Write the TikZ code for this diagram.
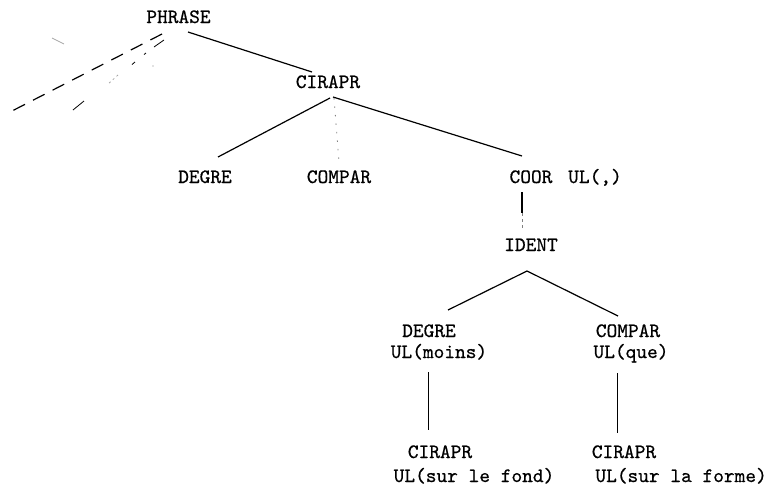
\documentclass[tikz,border=0pt]{standalone}
\usepackage{fontspec}
\newfontfamily\tw[FakeBold=0.6]{lmmono10-regular.otf}
\begin{document}
\begin{tikzpicture}[x=1pt,y=-1pt,
  lbl/.style={font=\tw\fontsize{20.4}{24}\selectfont, inner sep=0pt, anchor=base},
  edge/.style={line width=1.2pt},
  thinedge/.style={line width=0.8pt},
  dotedge/.style={line width=0.8pt, gray, dash pattern=on 1.5pt off 7pt},
  faint/.style={line width=0.8pt, gray!70}]
\useasboundingbox (0,0) rectangle (766,493);

% nodes
\node[lbl] (phrase) at (178.5,23) {PHRASE};
\node[lbl] (cirapr) at (328,88) {CIRAPR};
\node[lbl] (degre) at (205,183) {DEGRE};
\node[lbl] (compar) at (339,183) {COMPAR};
\node[lbl] (coor) at (531,183) {COOR};
\node[lbl] (ulc) at (595,183) {UL(,)};
\node[lbl] (ident) at (531,251) {IDENT};
\node[lbl] (degreb) at (429,337) {DEGRE};
\node[lbl] (ulmoins) at (439,358) {UL(moins)};
\node[lbl] (comparb) at (628,337) {COMPAR};
\node[lbl] (ulque) at (631,358) {UL(que)};
\node[lbl] (cirl) at (440,458) {CIRAPR};
\node[lbl] (ulfond) at (474,482) {UL(sur le fond)};
\node[lbl] (cirr) at (624,458) {CIRAPR};
\node[lbl,anchor=base east] (ulforme) at (767,482) {UL(sur la forme)};

% connectors
\draw[edge] ([shift={(9.5,9)}]phrase.base) -- ([shift={(-16,-16)}]cirapr.base);
\draw[edge] ([shift={(2,10)}]cirapr.base) -- ([shift={(13,-26)}]degre.base);
\draw[dotedge] ([shift={(6,10)}]cirapr.base) -- ([shift={(0,-21)}]compar.base);
\draw[edge] ([shift={(5,9)}]cirapr.base) -- ([shift={(-9,-27)}]coor.base);
\draw[edge] ([shift={(-9,9)}]coor.base) -- ([shift={(-9,30)}]coor.base);
\draw[thinedge, gray, dash pattern=on 3pt off 3pt] ([shift={(-9,30)}]coor.base) -- ([shift={(-9,-21)}]ident.base);
\draw[edge] ([shift={(-4,20)}]ident.base) -- ([shift={(19,-27)}]degreb.base);
\draw[edge] ([shift={(-4,20)}]ident.base) -- ([shift={(-10,-21)}]comparb.base);
\draw[thinedge] ([shift={(-1,35)}]degreb.base) -- ([shift={(-12,-28)}]cirl.base);
\draw[thinedge] ([shift={(-11,36)}]comparb.base) -- ([shift={(-7,-25)}]cirr.base);

% broken lines at the upper left
\coordinate (da) at (12,111);
\draw[edge, dash pattern=on 13pt off 9pt] ([shift={(-16.5,11)}]phrase.base) -- (da);
\draw[thinedge] (164,40) -- (154,47);
\draw[thinedge] (146,53) -- (144,54.5);
\draw[thinedge] (135,62) -- (132,64.5);
\draw[faint, dash pattern=on 2pt off 3pt] (118,75) -- (107,85);
\draw[thinedge] (84,101) -- (73,110);
\draw[faint] (52,38) -- (64,44);
\fill[gray] (153,66) circle (0.6pt);
\end{tikzpicture}
\end{document}
